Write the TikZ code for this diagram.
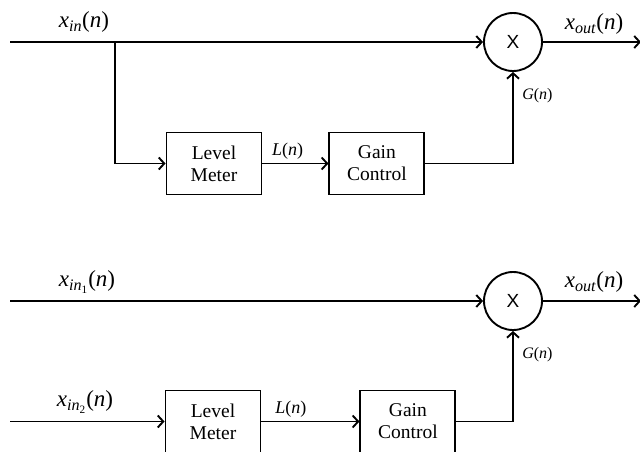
\documentclass[tikz,border=0pt]{standalone}
\usepackage{fontspec}
\setmainfont{Liberation Serif}
\setsansfont{Liberation Sans}
\usetikzlibrary{positioning,arrows.meta}

\newcommand{\sigv}[2]{\textit{#1}\textsubscript{#2}(\textit{n})}

\begin{document}
\begin{tikzpicture}[
    x=1pt, y=-1pt,
    line width=1.9pt,
    block/.style  ={draw, minimum width=95pt, minimum height=62pt, align=center,
                    font=\rmfamily\fontsize{19.5}{22}\selectfont},
    mult/.style   ={draw, circle, minimum size=58pt, inner sep=0pt,
                    font=\sffamily\fontsize{19}{20}\selectfont},
    sig/.style    ={-{Straight Barb[length=5.5pt,width=12pt]}},
    siglbl/.style ={font=\rmfamily\fontsize{23}{25}\selectfont},
    levlbl/.style ={font=\rmfamily\fontsize{18}{20}\selectfont},
    gainlbl/.style={font=\rmfamily\fontsize{16}{18}\selectfont}
]
\useasboundingbox (0,0) rectangle (640,452);
\clip (0,0) rectangle (640,452);

% top: single input, side chain tapped from the input
\coordinate (in)    at (10,42);
\coordinate (split) at (115,42);
\coordinate (out)   at (641,42);
\node[mult]  (mul) at (513,42) {X};
\node[block] (lm)  at (214,163.5) {Level\\Meter};
\node[block, right=66pt of lm] (gc) {Gain\\Control};

\draw[sig] (in) -- (mul);
\draw[sig] (split) |- (lm);
\draw[sig] (lm) -- node[pos=.38, above, levlbl] {\textit{L}(\textit{n})} (gc);
\draw[sig] (gc) -| node[pos=.87, right=5pt, gainlbl] {\textit{G}(\textit{n})} (mul);
\draw[sig] (mul) -- (out);

\node[siglbl] (xin)  at (84,22)  {\sigv{x}{\textit{in}}};
\node[siglbl] (xout) at (594,24) {\sigv{x}{\textit{out}}};

% bottom: separate side-chain input
\coordinate (ina)  at (10,301);
\coordinate (inb)  at (10,421.5);
\coordinate (outb) at (641,301);
\node[mult]  (mulb) at (513,301) {X};
\node[block] (lmb)  at (213,421.5) {Level\\Meter};
\node[block, right=98pt of lmb] (gcb) {Gain\\Control};

\draw[sig] (ina) -- (mulb);
\draw[sig] (inb) -- (lmb);
\draw[sig] (lmb) -- node[pos=.3, above, levlbl] {\textit{L}(\textit{n})} (gcb);
\draw[sig] (gcb) -| node[pos=.87, right=5pt, gainlbl] {\textit{G}(\textit{n})} (mulb);
\draw[sig] (mulb) -- (outb);

\node[siglbl] (xina)  at (87,282)  {\sigv{x}{\textit{in}\textsubscript{1}}};
\node[siglbl] (xinb)  at (85,402)  {\sigv{x}{\textit{in}\textsubscript{2}}};
\node[siglbl] (xoutb) at (594,282) {\sigv{x}{\textit{out}}};

\end{tikzpicture}
\end{document}
